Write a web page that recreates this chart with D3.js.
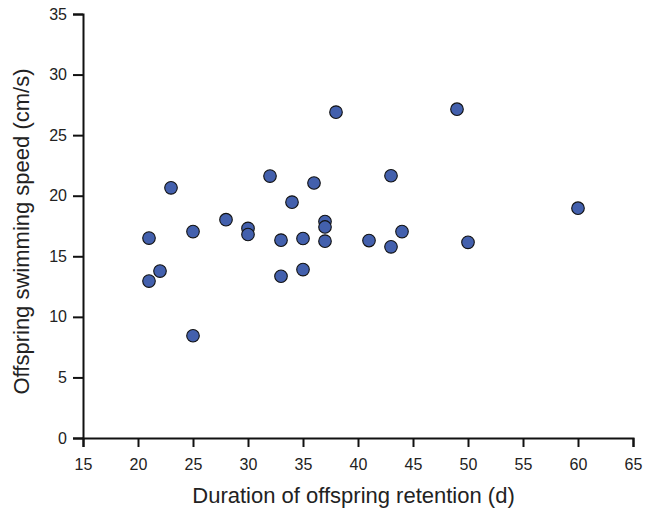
<!DOCTYPE html>
<html><head><meta charset="utf-8">
<script src="https://cdn.jsdelivr.net/npm/d3@7"></script>
<style>body{margin:0;background:#fff}svg{display:block}text{font-family:"Liberation Sans",Arial,sans-serif;fill:#222}</style>
</head><body><svg id="c" width="646" height="509"></svg>
<script>
const retention = [21,21,22,23,25,25,28,30,30,32,33,33,34,35,35,36,37,37,37,38,41,43,43,44,49,50,60];
const speed = [16.5,12.95,13.78,20.65,17.04,8.44,18.02,17.3,16.8,21.62,16.33,13.35,19.47,16.47,13.9,21.05,17.87,17.42,16.25,26.9,16.3,21.65,15.78,17.04,27.14,16.15,18.97];
const xTicks = [15,20,25,30,35,40,45,50,55,60,65];
const yTicks = [0,5,10,15,20,25,30,35];
const xTitle = "Duration of offspring retention (d)";
const yTitle = "Offspring swimming speed (cm/s)";

const svg = d3.select("#c");
const x = d3.scaleLinear().domain([15,65]).range([83,633]);
const y = d3.scaleLinear().domain([0,35]).range([438,14]);

const gx = svg.append("g").attr("transform","translate(0,438)")
  .call(d3.axisBottom(x).tickValues(xTicks).tickSizeOuter(0).tickSize(9).tickPadding(12));
const gy = svg.append("g").attr("transform","translate(83,0)")
  .call(d3.axisLeft(y).tickValues(yTicks).tickSizeOuter(0).tickSize(10).tickPadding(6));
[gx,gy].forEach(g=>{
  g.selectAll("path,line").attr("stroke","#111").attr("stroke-width",2);
  g.selectAll("text").attr("font-size",16).attr("fill","#222").style("font-family",'"Liberation Sans",Arial,sans-serif');
});

svg.append("text").attr("x",353.5).attr("y",503).attr("text-anchor","middle").attr("font-size",22).text(xTitle);
svg.append("text").attr("transform","translate(29,231.5) rotate(-90)").attr("text-anchor","middle").attr("font-size",22).text(yTitle);

svg.append("g").selectAll("circle").data(retention.map((r,i)=>({r,s:speed[i]}))).join("circle")
  .attr("cx",d=>x(d.r)).attr("cy",d=>y(d.s)).attr("r",6.3)
  .attr("fill","#4360ad").attr("stroke","#111").attr("stroke-width",1.1);
</script></body></html>
